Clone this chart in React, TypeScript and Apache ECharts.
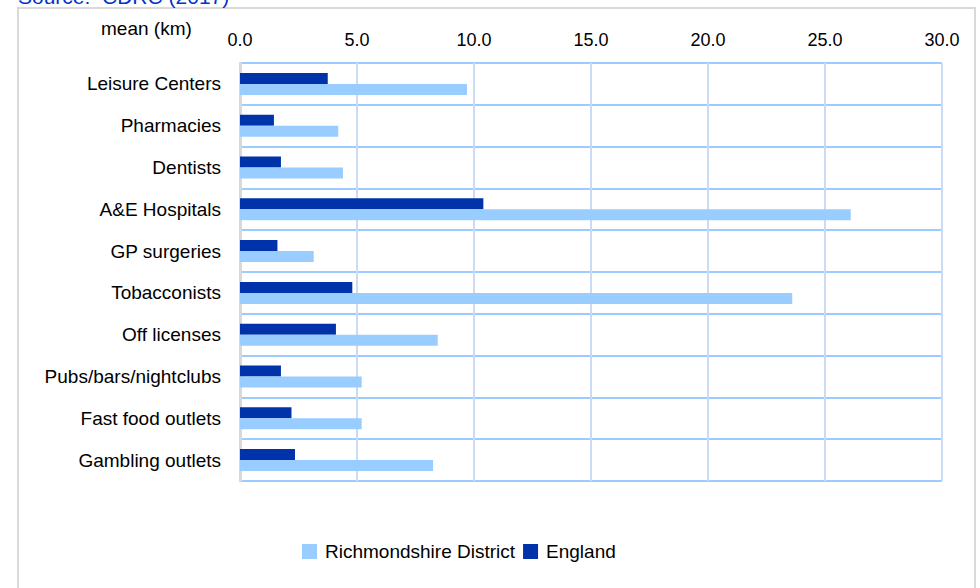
import React, { useEffect, useRef } from "react";
import * as echarts from "echarts";

const categories = [
  "Leisure Centers",
  "Pharmacies",
  "Dentists",
  "A&E Hospitals",
  "GP surgeries",
  "Tobacconists",
  "Off licenses",
  "Pubs/bars/nightclubs",
  "Fast food outlets",
  "Gambling outlets",
];
const richmondshire = [9.7, 4.2, 4.4, 26.1, 3.15, 23.6, 8.45, 5.2, 5.2, 8.25];
const england = [3.75, 1.45, 1.75, 10.4, 1.6, 4.8, 4.1, 1.75, 2.2, 2.35];
const seriesNames = ["Richmondshire District", "England"];

export default function App() {
  const ref = useRef<HTMLDivElement>(null);
  useEffect(() => {
    if (!ref.current) return;
    const chart = echarts.init(ref.current, null, { renderer: "svg" });
    const font = "Liberation Sans, Arial, sans-serif";
    chart.setOption({
      animation: false,
      backgroundColor: "#ffffff",
      textStyle: { fontFamily: font },
      graphic: [
        {
          type: "rect",
          shape: { x: 18, y: 8, width: 957, height: 600 },
          style: { fill: "none", stroke: "#d9d9d9", lineWidth: 2 },
          silent: true,
        },
        {
          type: "text",
          x: 18,
          y: -14,
          style: { text: "Source:  CDRC (2017)", fill: "#0033cc", font: "21px " + font },
        },
        {
          type: "text",
          x: 101,
          y: 19,
          style: { text: "mean (km)", fill: "#000000", font: "19px " + font },
        },
      ],
      legend: {
        data: seriesNames,
        bottom: 22,
        left: 297,
        itemWidth: 15,
        itemHeight: 15,
        itemGap: 8,
        icon: "rect",
        textStyle: { fontSize: 19, color: "#000", fontFamily: font, padding: [0, 0, 0, 3] },
      },
      grid: { left: 240, right: 38, top: 63, bottom: 107, containLabel: false },
      xAxis: {
        type: "value",
        position: "top",
        min: 0,
        max: 30,
        interval: 5,
        axisLine: { show: false },
        axisTick: { show: false },
        axisLabel: {
          margin: 14,
          fontSize: 18,
          color: "#000",
          fontFamily: font,
          formatter: (v: number) => v.toFixed(1),
        },
        splitLine: { show: true, lineStyle: { color: "#cadcf3", width: 2 } },
      },
      yAxis: {
        type: "category",
        data: categories,
        inverse: true,
        axisLine: { show: true, lineStyle: { color: "#d9d9d9", width: 3 } },
        axisTick: { show: false },
        axisLabel: { margin: 19, fontSize: 19, color: "#000", fontFamily: font },
        splitLine: { show: true, lineStyle: { color: "#9ccbff", width: 2 } },
      },
      series: [
        {
          name: seriesNames[1],
          type: "bar",
          data: england,
          barWidth: 11,
          barGap: "0%",
          itemStyle: { color: "#0033aa" },
        },
        {
          name: seriesNames[0],
          type: "bar",
          data: richmondshire,
          barWidth: 11,
          barGap: "0%",
          itemStyle: { color: "#99ccff" },
        },
      ],
    });
    return () => chart.dispose();
  }, []);
  return (
    <div
      ref={ref}
      style={{ position: "fixed", left: 0, top: 0, width: 980, height: 588 }}
    />
  );
}
